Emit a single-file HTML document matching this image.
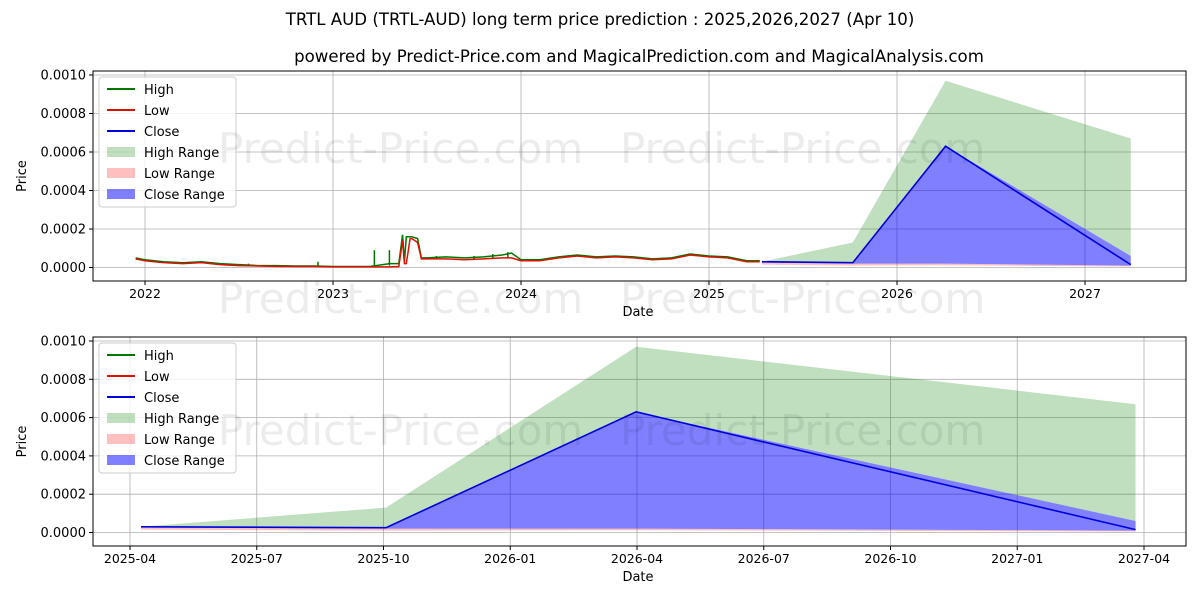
<!DOCTYPE html>
<html><head><meta charset="utf-8"><style>
body{margin:0;background:#fff;}
svg text{font-family:"DejaVu Sans","Liberation Sans",sans-serif;fill:#000;}
</style></head><body>
<svg id="c" width="1200" height="600" xmlns="http://www.w3.org/2000/svg"></svg>
<script>
// historical data (decimal years, values in 1e-5)
const histYears=[2021.95,2022.0,2022.05,2022.1,2022.2,2022.3,2022.4,2022.5,2022.6,2022.7,2022.8,2022.9,2023.0,2023.1,2023.2,2023.3,2023.35,2023.37,2023.38,2023.39,2023.41,2023.42,2023.45,2023.47,2023.5,2023.6,2023.7,2023.8,2023.9,2023.95,2024.0,2024.1,2024.2,2024.3,2024.4,2024.5,2024.6,2024.7,2024.8,2024.9,2025.0,2025.1,2025.2,2025.27];
const histLow=[4.5,3.5,3,2.5,2,2.5,1.5,1,0.8,0.6,0.5,0.5,0.3,0.3,0.3,0.3,0.5,14,2,2,15,15,13,4.5,4.5,4.5,4,4.5,5,5,3.5,3.5,5,6,5,5.5,5,4,4.5,6.5,5.5,5,3,3];
const histHigh=[5,4,3.5,3,2.5,3,2,1.5,1,1,0.8,0.8,0.5,0.5,0.6,2,2,17,3,16,16,16,15,5,5,5.5,5,5.5,6.5,7.5,4,4,5.5,6.5,5.5,6,5.5,4.5,5,7,6,5.5,3.5,3.5];
const spikeYears=[2022.55,2022.92,2023.22,2023.3,2023.55,2023.75,2023.85,2023.93];
const spikeBase=[1,0.5,0.5,1,4.5,4,4.5,5];
const spikeVals=[2,3,9,9,6,6,7,8];
// prediction data (months since 2025-04-01, values in 1e-5)
const predMonths=[0.26,6.06,11.98,23.8];
const predClose=[3,2.5,63,1.5];
const predHigh=[3,13,97,67];
const predCloseHi=[3,2.5,63,6];
const predCloseLo=[2.5,2,2,1];
const predLowHi=[2.5,2,2,1];
const predLowLo=[1.5,1,1.2,0.5];
const yTicks=[0,0.0002,0.0004,0.0006,0.0008,0.0010];
const topXTicks=[2022,2023,2024,2025,2026,2027];
const botXTicks=["2025-04","2025-07","2025-10","2026-01","2026-04","2026-07","2026-10","2027-01","2027-04"];
const svg=document.getElementById('c');
const NS='http://www.w3.org/2000/svg';
function el(t,a,p){const e=document.createElementNS(NS,t);for(const k in a)e.setAttribute(k,a[k]);(p||svg).appendChild(e);return e;}
function txt(s,a){const e=el('text',a);e.textContent=s;return e;}
function panel(P){
 const g=el('g',{});
 
 
 const Y=v=>P.y0-v*1e5*P.k;
 const Yu=u=>P.y0-u*P.k;
 P.xt.forEach((t,i)=>{const x=P.xtPos(i,t);el('line',{x1:x,x2:x,y1:P.top,y2:P.bot,stroke:'#b0b0b0','stroke-width':0.8},g);
  el('line',{x1:x,x2:x,y1:P.bot,y2:P.bot+4,stroke:'#000'},g);
  const l=txt(String(t),{x:x,y:P.bot+17,'font-size':12.5,'text-anchor':'middle'});});
 yTicks.forEach(v=>{const y=Y(v);el('line',{x1:P.left,x2:P.right,y1:y,y2:y,stroke:'#b0b0b0','stroke-width':0.8},g);
  el('line',{x1:P.left-4,x2:P.left,y1:y,y2:y,stroke:'#000'},g);
  const l=txt(v.toFixed(4),{x:P.left-7,y:y+4.5,'font-size':13,'text-anchor':'end'});});
 const PX=P.px;
 function band(hi,lo,fill,name){let d='M'+predMonths.map((m,i)=>PX(m)+','+Yu(hi[i])).join('L');
  for(let i=predMonths.length-1;i>=0;i--)d+='L'+PX(predMonths[i])+','+Yu(lo[i]);
  const b=el('path',{d:d+'Z',fill:fill},g);}
 band(predHigh,predCloseHi,'rgba(0,128,0,0.25)','high-range');
 band(predLowHi,predLowLo,'rgba(255,0,0,0.25)','low-range');
 band(predCloseHi,predCloseLo,'rgba(0,0,255,0.5)','close-range');
 const cl=el('polyline',{points:predMonths.map((m,i)=>PX(m)+','+Yu(predClose[i])).join(' '),fill:'none',stroke:'#0000dd','stroke-width':1.6},g);
 
 if(P.hist){
  const HX=P.hx;
  const hl=el('polyline',{points:histYears.map((t,i)=>HX(t)+','+Yu(histHigh[i])).join(' '),fill:'none',stroke:'#007700','stroke-width':1.5},g);
  
  spikeYears.forEach((t,i)=>{const s=el('line',{x1:HX(t),x2:HX(t),y1:Yu(spikeBase[i]),y2:Yu(spikeVals[i]),stroke:'#007700','stroke-width':1.5},g);});
  const ll=el('polyline',{points:histYears.map((t,i)=>HX(t)+','+Yu(histLow[i])).join(' '),fill:'none',stroke:'#dd1100','stroke-width':1.5},g);
  
 }
 el('rect',{x:P.left,y:P.top,width:P.right-P.left,height:P.bot-P.top,fill:'none',stroke:'#000','stroke-width':1},g);
 const yl=txt('Price',{x:0,y:0,'font-size':13,'text-anchor':'middle',transform:`translate(26,${(P.top+P.bot)/2}) rotate(-90)`});
 const xl=txt('Date',{x:638,y:P.bot+35,'font-size':13,'text-anchor':'middle'});
 const lx=P.left+6,ly=P.top+6;
 const lg=el('rect',{x:lx,y:ly,width:137,height:130,fill:'#fff','fill-opacity':0.8,stroke:'#ccc',rx:3},g);
 
 const items=[['High','line','#007700'],['Low','line','#dd1100'],['Close','line','#0000dd'],['High Range','box','rgba(0,128,0,0.25)'],['Low Range','box','rgba(255,0,0,0.25)'],['Close Range','box','rgba(0,0,255,0.5)']];
 items.forEach((it,i)=>{const y=ly+12+i*21;
  if(it[1]=='line')el('line',{x1:lx+8,x2:lx+36,y1:y,y2:y,stroke:it[2],'stroke-width':2},g);
  else el('rect',{x:lx+8,y:y-5,width:28,height:10,fill:it[2]},g);
  const t=txt(it[0],{x:lx+45,y:y+5,'font-size':13});});
}
panel({name:'top-panel',top:71,bot:281,left:93,right:1186,y0:267.5,k:1.925,xt:topXTicks,
 xtPos:(i,t)=>145+(t-2022)*188,hist:true,hx:t=>145+(t-2022)*188,px:m=>145+(2025.26+m/12-2022)*188});
panel({name:'bottom-panel',top:337,bot:546,left:93,right:1186,y0:532.5,k:1.915,xt:botXTicks,
 xtPos:(i,t)=>130+i*3*42.25,hist:false,px:m=>130+m*42.25});
[[218,163],[620,163],[218,313],[620,313],[218,445],[620,445]].forEach(([x,y])=>{const w=txt('Predict-Price.com',{x:x,y:y,'font-size':42,style:'fill:#000;opacity:0.07'});});
const t1=txt('TRTL AUD (TRTL-AUD) long term price prediction : 2025,2026,2027 (Apr 10)',{x:600,y:25,'font-size':16.6,'text-anchor':'middle'});

const t2=txt('powered by Predict-Price.com and MagicalPrediction.com and MagicalAnalysis.com',{x:639,y:62,'font-size':16.6,'text-anchor':'middle'});

</script>
</body></html>
